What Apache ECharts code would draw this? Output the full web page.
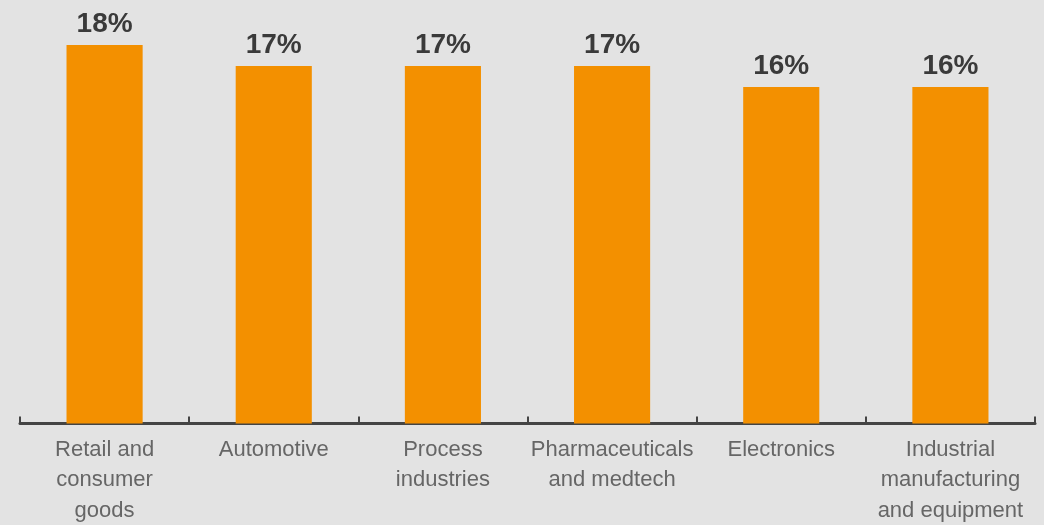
<!DOCTYPE html>
<html>
<head>
<meta charset="utf-8">
<script src="https://cdn.jsdelivr.net/npm/echarts@6/dist/echarts.min.js"></script>
<style>
  html, body { margin: 0; padding: 0; background: #e3e3e3; }
  #chart { width: 1044px; height: 525px; }
</style>
</head>
<body>
<div id="chart"></div>
<script>
// Share by industry (%)
const categories = [
  'Retail and\nconsumer\ngoods',
  'Automotive',
  'Process\nindustries',
  'Pharmaceuticals\nand medtech',
  'Electronics',
  'Industrial\nmanufacturing\nand equipment'
];
const shares = [18, 17, 17, 17, 16, 16];

const chart = echarts.init(document.getElementById('chart'), null, { renderer: 'canvas' });
chart.setOption({
  backgroundColor: '#e3e3e3',
  animation: false,
  grid: {
    left: 20, right: 9, top: 45, bottom: 101.5,
    containLabel: false,
    outerBoundsMode: 'none'
  },
  xAxis: {
    type: 'category',
    data: categories,
    axisLine: { lineStyle: { color: '#444444', width: 3 } },
    axisTick: { show: true, inside: true, length: 7, lineStyle: { color: '#444444', width: 2 } },
    axisLabel: {
      interval: 0,
      color: '#666666',
      fontSize: 22,
      lineHeight: 30.5,
      margin: 11,
      fontFamily: 'Liberation Sans, Arial, sans-serif'
    }
  },
  yAxis: {
    type: 'value',
    min: 0,
    max: 18,
    show: false
  },
  series: [{
    type: 'bar',
    data: shares,
    barWidth: '45%',
    itemStyle: { color: '#f39000' },
    label: {
      show: true,
      position: 'top',
      distance: 7,
      formatter: '{c}%',
      color: '#3a3a3a',
      fontSize: 28,
      fontWeight: 'bold',
      fontFamily: 'Liberation Sans, Arial, sans-serif'
    }
  }]
});
</script>
</body>
</html>
